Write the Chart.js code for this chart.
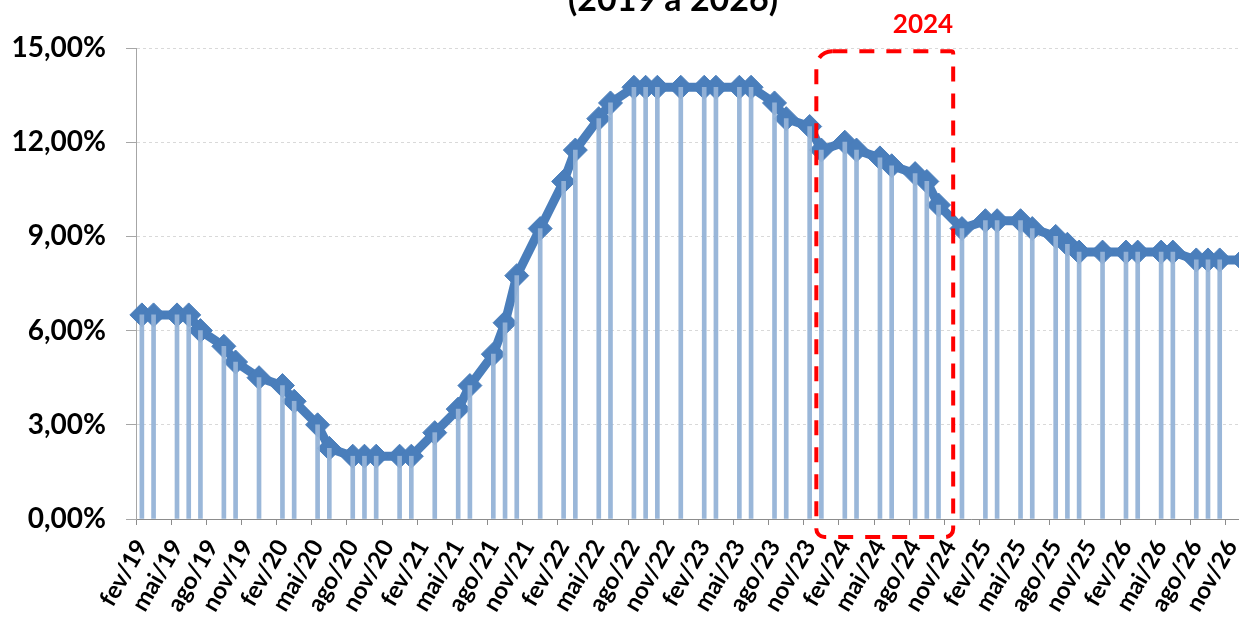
<!DOCTYPE html>
<html lang="pt-BR">
<head>
  <meta charset="UTF-8" />
  <title>Selic (2019 a 2026)</title>
  <script src="https://cdn.jsdelivr.net/npm/chart.js"></script>
  <style>
    * { margin: 0; padding: 0; box-sizing: border-box; }
    html, body { background: #fff; overflow: hidden; width: 1239px; height: 617px; }
    .wrap { position: absolute; left: 0; top: 0; width: 1262px; height: 617px; }
  </style>
</head>
<body>
  <div class="wrap"><canvas id="selicChart"></canvas></div>

  <script>
    const monthNames = ['jan', 'fev', 'mar', 'abr', 'mai', 'jun', 'jul', 'ago', 'set', 'out', 'nov', 'dez'];
    const years = [19, 20, 21, 22, 23, 24, 25, 26];

    // meses com reunião do Copom e a taxa em cada uma
    const meetings = [
      'fev/19', 'mar/19', 'mai/19', 'jun/19', 'jul/19', 'set/19', 'out/19', 'dez/19',
      'fev/20', 'mar/20', 'mai/20', 'jun/20', 'ago/20', 'set/20', 'out/20', 'dez/20',
      'jan/21', 'mar/21', 'mai/21', 'jun/21', 'ago/21', 'set/21', 'out/21', 'dez/21',
      'fev/22', 'mar/22', 'mai/22', 'jun/22', 'ago/22', 'set/22', 'out/22', 'dez/22',
      'fev/23', 'mar/23', 'mai/23', 'jun/23', 'ago/23', 'set/23', 'nov/23', 'dez/23',
      'fev/24', 'mar/24', 'mai/24', 'jun/24', 'ago/24', 'set/24', 'out/24', 'dez/24',
      'fev/25', 'mar/25', 'mai/25', 'jun/25', 'ago/25', 'set/25', 'out/25', 'dez/25',
      'fev/26', 'mar/26', 'mai/26', 'jun/26', 'ago/26', 'set/26', 'out/26', 'dez/26'
    ];
    const selic = [
      6.5, 6.5, 6.5, 6.5, 6.0, 5.5, 5.0, 4.5,
      4.25, 3.75, 3.0, 2.25, 2.0, 2.0, 2.0, 2.0,
      2.0, 2.75, 3.5, 4.25, 5.25, 6.25, 7.75, 9.25,
      10.75, 11.75, 12.75, 13.25, 13.75, 13.75, 13.75, 13.75,
      13.75, 13.75, 13.75, 13.75, 13.25, 12.75, 12.5, 11.75,
      12.0, 11.75, 11.5, 11.25, 11.0, 10.75, 10.0, 9.25,
      9.5, 9.5, 9.5, 9.25, 9.0, 8.75, 8.5, 8.5,
      8.5, 8.5, 8.5, 8.5, 8.25, 8.25, 8.25, 8.25
    ];
    const yTicks = [0, 3, 6, 9, 12, 15];
    const titleText = '(2019 a 2026)';
    const highlightText = '2024';

    // eixo mensal de fev/19 a dez/26
    const months = [];
    years.forEach(y => {
      monthNames.forEach((m, i) => {
        if (y === 19 && i < 1) return;
        months.push(m + '/' + y);
      });
    });
    const series = months.map(m => {
      const k = meetings.indexOf(m);
      return k >= 0 ? selic[k] : null;
    });

    const boxStart = months.indexOf('dez/23') - 0.43;
    const boxEnd = months.indexOf('dez/24') - 0.75;

    const blue = '#4a7ebb';
    const lightBlue = 'rgba(149, 179, 215, 0.95)';
    const font = 'Lato';

    const overlay = {
      id: 'overlay',
      afterDraw(chart) {
        const ctx = chart.ctx;
        const x = chart.scales.x, y = chart.scales.y;
        ctx.save();
        ctx.fillStyle = '#000';
        ctx.font = 'bold 34px ' + font;
        ctx.textAlign = 'center';
        ctx.textBaseline = 'alphabetic';
        ctx.fillText(titleText, 673, 11);

        const left = x.getPixelForValue(boxStart);
        const right = x.getPixelForValue(boxEnd);
        const top = y.getPixelForValue(14.9);
        const bottom = y.bottom + 18;
        ctx.strokeStyle = '#ff0000';
        ctx.lineWidth = 4;
        ctx.setLineDash([15, 12]);
        ctx.beginPath();
        ctx.roundRect(left, top, right - left, bottom - top, [16, 2, 8, 8]);
        ctx.stroke();

        ctx.fillStyle = '#ff0000';
        ctx.font = 'bold 26px ' + font;
        ctx.textAlign = 'right';
        ctx.fillText(highlightText, right, 33);
        ctx.restore();
      }
    };

    new Chart(document.getElementById('selicChart'), {
      type: 'bar',
      data: {
        labels: months,
        datasets: [
          {
            type: 'bar',
            data: series,
            backgroundColor: lightBlue,
            barThickness: 4,
            order: 0
          },
          {
            type: 'line',
            data: series,
            borderColor: blue,
            backgroundColor: blue,
            borderWidth: 9,
            pointStyle: 'rectRot',
            pointRadius: 12,
            pointBorderWidth: 1,
            pointBackgroundColor: blue,
            pointBorderColor: blue,
            spanGaps: true,
            tension: 0,
            order: 1
          }
        ]
      },
      options: {
        responsive: true,
        maintainAspectRatio: false,
        animation: false,
        layout: { padding: { top: 48, right: 12, left: 0, bottom: 0 } },
        plugins: {
          legend: { display: false },
          tooltip: { enabled: false }
        },
        scales: {
          x: {
            offset: true,
            afterFit: s => { s.height = 98; s.paddingLeft = 0; s.paddingRight = 0; },
            grid: {
              offset: true,
              drawOnChartArea: false,
              tickLength: 6,
              color: ctx => ctx.index % 3 === 0 ? '#8c8c8c' : 'rgba(0,0,0,0)'
            },
            border: { color: '#8c8c8c', width: 1 },
            ticks: {
              autoSkip: false,
              maxRotation: 60,
              minRotation: 60,
              padding: 10,
              color: '#000',
              font: { family: font, weight: 'bold', size: 24 },
              callback: (v, i) => i % 3 === 0 ? months[i] : ''
            }
          },
          y: {
            min: 0,
            max: 15,
            afterFit: s => { s.width = 136; },
            afterBuildTicks: s => { s.ticks = yTicks.map(v => ({ value: v })); },
            grid: {
              color: '#d9d9d9',
              tickColor: '#a6a6a6',
              tickBorderDash: [1, 0],
              tickLength: 10
            },
            border: { color: '#a6a6a6', width: 1, dash: [3, 3] },
            ticks: {
              padding: 20,
              color: '#000',
              font: { family: font, weight: 'bold', size: 28 },
              callback: v => v.toFixed(2).replace('.', ',') + '%'
            }
          }
        }
      },
      plugins: [overlay]
    });
  </script>
</body>
</html>
